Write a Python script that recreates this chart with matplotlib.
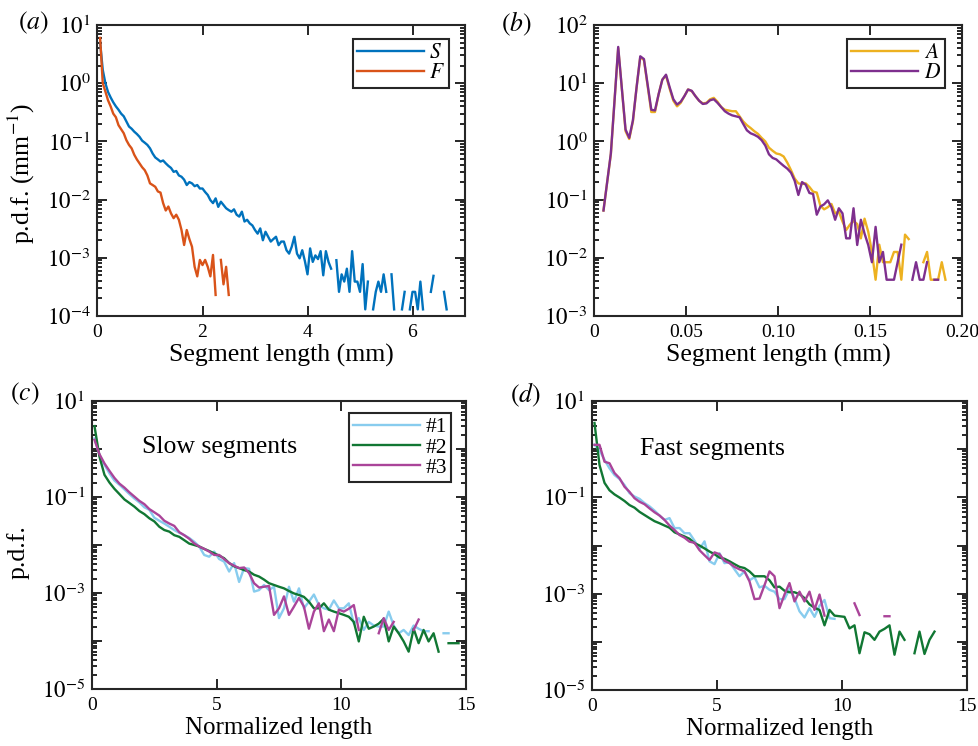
import numpy as np
import matplotlib
matplotlib.use("Agg")
from matplotlib import pyplot as plt
from matplotlib.ticker import LogLocator, FuncFormatter, NullFormatter

nan = np.nan

# (a) pdf of segment length, slow (S) and fast (F), 0.05 mm bins starting at 0.05
s_pdf = [5.0, 1.7, 1.0, 0.71, 0.57, 0.47, 0.40, 0.35, 0.30, 0.27,
         0.22, 0.18, 0.165, 0.147, 0.134, 0.12, 0.103, 0.095, 0.087, 0.076,
         0.062, 0.053, 0.049, 0.045, 0.047, 0.042, 0.038, 0.035, 0.030, 0.031,
         0.026, 0.0247, 0.022, 0.0178, 0.020, 0.019, 0.017, 0.0178, 0.0155, 0.0155,
         0.0135, 0.012, 0.0098, 0.0087, 0.0105, 0.0075, 0.0092, 0.0081, 0.0071, 0.0066,
         0.0062, 0.0068, 0.0055, 0.0051, 0.0062, 0.0042, 0.0045, 0.0039, 0.0036, 0.0030,
         0.0026, 0.0032, 0.0020, 0.0028, 0.0023, 0.0019, 0.0021, 0.0023, 0.00165, 0.0019,
         0.0019, 0.00135, 0.00118, 0.00155, 0.0023, 0.00118, 0.00098, 0.00135, 8.8e-4, 5.2e-4,
         1.45e-3, 8.5e-4, 1.1e-3, 9.5e-4, 1.3e-3, 5.0e-4, 1.3e-3, 8.5e-4, 6.5e-4, nan,
         9.1e-4, 2.6e-4, 5.2e-4, 3.9e-4, 6.5e-4, 2.6e-4, 1.3e-3, 3.9e-4, 3.9e-4, 2.6e-4,
         7.8e-4, 1.3e-4, 3.9e-4, nan, 1.3e-4, 2.6e-4, 3.9e-4, 2.6e-4, 5.2e-4, 2.6e-4,
         nan, 5.2e-4, 1.3e-4, nan, nan, 1.3e-4, 2.6e-4, nan, 1.3e-4, 2.6e-4,
         2.6e-4, 1.3e-4, 3.9e-4, 1.3e-4, nan, nan, 2.6e-4, 4.9e-4, nan, nan,
         nan, 2.6e-4, 1.3e-4]
f_pdf = [6.0, 1.0, 0.72, 0.51, 0.40, 0.30, 0.26, 0.19, 0.162, 0.138,
         0.105, 0.087, 0.076, 0.059, 0.049, 0.042, 0.036, 0.032, 0.026, 0.019,
         0.0178, 0.0166, 0.0138, 0.0132, 0.0087, 0.0065, 0.0076, 0.0058, 0.0048, 0.0055,
         0.0045, 0.0030, 0.00166, 0.0030, 0.0021, 0.00155, 0.0007, 0.00048, 0.00092, 0.00075,
         0.00092, 0.0007, 0.00048, 0.00112, 0.00023, nan, 0.00092, 0.00035, 0.0007, 0.00023]
seg_bin_a = 0.05

# (b) pdf of short segments, A and D, 0.002 mm bins starting at 0.005
d_pdf = [0.065, 0.2, 0.62, 5.0, 42, 8.0, 1.6, 1.15, 2.3, 8.5,
         29, 26, 9.5, 3.5, 3.4, 6.5, 11.5, 14, 8.5, 5.3,
         4.3, 4.8, 6.0, 7.8, 7.4, 6.0, 5.0, 4.4, 4.5, 5.1,
         5.3, 4.6, 3.9, 3.3, 3.0, 2.8, 2.7, 2.6, 2.0, 1.55,
         1.38, 1.3, 1.2, 1.05, 0.85, 0.6, 0.52, 0.49, 0.43, 0.38,
         0.34, 0.29, 0.21, 0.12, 0.20, 0.18, 0.13, 0.125, 0.055, 0.076,
         0.083, 0.097, 0.074, 0.045, 0.071, 0.058, 0.0216, 0.0216, 0.071, 0.0166,
         0.045, 0.026, 0.0166, 0.0084, 0.034, 0.0084, 0.0126, 0.0042, 0.0042, 0.0042,
         0.0084, 0.0168, nan, nan, 0.0042, 0.0084, 0.0042, 0.0042, 0.0084, nan,
         0.0042, 0.0042, nan, nan, nan, nan, nan]
a_pdf = [0.065, 0.2, 0.6, 5.0, 40, 8.0, 1.5, 1.1, 2.2, 8.5,
         28, 25, 9.0, 3.2, 3.2, 6.5, 11.5, 13.5, 8.0, 5.0,
         4.0, 4.6, 6.0, 7.8, 7.3, 6.0, 5.0, 4.5, 4.6, 5.3,
         5.6, 4.8, 3.9, 3.5, 3.4, 3.3, 3.3, 2.7, 2.2, 1.9,
         1.7, 1.5, 1.35, 1.15, 1.0, 0.78, 0.69, 0.62, 0.60, 0.55,
         0.43, 0.32, 0.23, 0.19, 0.185, 0.19, 0.165, 0.137, 0.132, 0.078,
         0.068, 0.074, 0.084, 0.058, 0.062, 0.042, 0.030, 0.037, 0.043, 0.038,
         0.0216, 0.047, 0.028, 0.0126, 0.0042, 0.0168, 0.0084, 0.0084, 0.0084, 0.0126,
         0.0126, 0.0042, 0.025, 0.021, nan, nan, nan, 0.0084, 0.0126, 0.0042,
         0.0042, 0.0042, 0.0084, 0.0042, nan, nan, nan]
seg_start_b = 0.005
seg_bin_b = 0.002

# (c) slow segments, normalized length, bins of 0.2 starting at 0.1
slow_1 = [1.66, 0.75, 0.47, 0.31, 0.22, 0.18, 0.144, 0.115, 0.093, 0.077,
          0.061, 0.054, 0.037, 0.032, 0.028, 0.024, 0.0205, 0.018, 0.016, 0.014,
          0.0117, 0.0093, 0.0062, 0.0057, 0.0073, 0.0051, 0.0045, 0.0028, 0.0042, 0.0017,
          0.0033, 0.0032, 0.00107, 0.00115, 0.00147, 0.00115, 0.00135, 0.0003, 0.00048, 0.00135,
          0.00066, 0.00125, 0.00048, 0.00066, 0.00093, 0.00056, 0.00048, 0.00045, 0.0007, 0.00048,
          0.00048, 0.00061, 0.00023, 0.0003, 0.00017, 0.00025, 0.00021, 0.0002, 0.0002, 0.00041,
          0.00021, 0.000145, 0.00017, 0.000133, 0.00021, 0.00018, 0.00016, 0.00016, nan, nan,
          0.000145, 0.000145, nan, nan]
slow_2 = [3.0, 0.69, 0.29, 0.20, 0.148, 0.115, 0.089, 0.075, 0.063, 0.051,
          0.044, 0.036, 0.031, 0.024, 0.0205, 0.019, 0.016, 0.0148, 0.0126, 0.0107,
          0.0100, 0.0093, 0.0083, 0.0075, 0.0067, 0.006, 0.0053, 0.0042, 0.0036, 0.0033,
          0.003, 0.0028, 0.0024, 0.0022, 0.0019, 0.0016, 0.00147, 0.00135, 0.00125, 0.0011,
          0.00098, 0.00091, 0.00083, 0.00066, 0.00048, 0.00048, 0.00061, 0.00045, 0.00041, 0.00038,
          0.00035, 0.00032, 0.00025, 9.8e-5, 0.00032, 0.00018, 0.0002, 0.00023, 0.00029, 9.8e-5,
          0.0002, 0.000145, 9.8e-5, 6e-5, 0.00018, 9e-5, 0.00017, 9.8e-5, 0.000145, 6e-5,
          nan, 9e-5, 9e-5, 9e-5]
slow_3 = [1.55, 0.78, 0.50, 0.35, 0.25, 0.19, 0.157, 0.125, 0.102, 0.083,
          0.071, 0.056, 0.048, 0.041, 0.032, 0.028, 0.025, 0.0185, 0.016, 0.0135,
          0.0108, 0.0093, 0.0083, 0.0073, 0.0062, 0.0062, 0.0051, 0.0042, 0.0037, 0.0033,
          0.0034, 0.0026, 0.0016, 0.0013, 0.00135, 0.0014, 0.00035, 0.00048, 0.00085, 0.00035,
          0.00052, 0.00079, 0.00052, 0.00018, 0.00041, 0.00061, 0.00016, 0.00028, 0.00016, 0.00045,
          0.00041, 0.00047, 0.00056, 0.00017, nan, nan, nan, 0.000145, 0.0003, 0.00017,
          0.00025, nan, nan, nan, 0.00017, 0.00028, nan, nan, nan, nan,
          nan, nan, nan, nan]

# (d) fast segments, same bins
fast_1 = [1.23, 0.95, 0.60, 0.40, 0.29, 0.24, 0.18, 0.122, 0.104, 0.093,
          0.076, 0.065, 0.053, 0.042, 0.034, 0.037, 0.023, 0.023, 0.018, 0.018,
          0.0126, 0.0084, 0.0122, 0.0047, 0.0041, 0.0069, 0.0043, 0.0045, 0.0032, 0.0023,
          0.0029, 0.0019, 0.0022, 0.00135, 0.00146, 0.0012, 0.0011, 0.00077, 0.00077, 0.00126,
          0.00081, 0.00043, 0.00032, 0.0005, 0.00033, 0.00056, 0.00074, 0.00031, 0.0003, nan,
          nan, nan, nan, nan, nan, nan, nan, nan, nan, nan,
          nan, nan, nan, nan, nan, nan, nan, nan, nan, nan,
          nan, nan, nan, nan]
fast_2 = [3.5, 0.47, 0.20, 0.14, 0.115, 0.099, 0.084, 0.069, 0.061, 0.050,
          0.043, 0.037, 0.032, 0.029, 0.026, 0.0234, 0.0188, 0.017, 0.0154, 0.0138,
          0.0112, 0.0100, 0.0087, 0.0075, 0.0066, 0.0056, 0.0053, 0.0047, 0.0041, 0.0036,
          0.0034, 0.0029, 0.0023, 0.0023, 0.0023, 0.0019, 0.00135, 0.0014, 0.00115, 0.00107,
          0.00107, 0.00098, 0.00081, 0.0006, 0.00051, 0.00046, 0.00022, 0.00046, 0.00035, 0.00034,
          0.00033, 0.00019, 0.00022, 5.8e-5, 0.000158, 0.000144, 0.00011, 0.000163, 0.000186, 0.00022,
          5.4e-5, 0.000163, 0.00011, nan, 5.8e-5, 0.000163, 5.6e-5, 0.00011, 0.000163, nan,
          nan, nan, nan, nan]
fast_3 = [1.23, 1.23, 0.55, 0.51, 0.32, 0.25, 0.166, 0.13, 0.096, 0.081,
          0.072, 0.059, 0.049, 0.042, 0.034, 0.026, 0.021, 0.0165, 0.0145, 0.012,
          0.0114, 0.008, 0.0063, 0.005, 0.0072, 0.0066, 0.0048, 0.0043, 0.0036, 0.0032,
          0.0029, 0.0018, 0.00077, 0.00079, 0.0015, 0.0029, 0.0023, 0.0005, 0.00096, 0.00166,
          0.00069, 0.0011, 0.00069, 0.0011, 0.00046, 0.00096, 0.00035, nan, nan, nan,
          nan, nan, 0.00063, 0.00036, nan, nan, nan, nan, 0.00034, 0.00034,
          nan, nan, nan, nan, nan, nan, nan, nan, nan, nan,
          nan, nan, nan, nan]
norm_start = 0.1
norm_bin = 0.2

run_labels = ["#1", "#2", "#3"]
run_colors = ["#88CCEE", "#117733", "#AA4499"]

plt.rcParams['font.family'] = 'serif'
plt.rcParams['font.serif'] = ['Liberation Serif', 'DejaVu Serif']
plt.rcParams['mathtext.fontset'] = 'stix'
plt.rcParams['font.size'] = 16
edge = '#262626'
big = 18.5


def exp_label(odd_only):
    def fmt(v, pos):
        e = int(round(np.log10(v)))
        if odd_only and e % 2 == 0:
            return ''
        return '$10^{%d}$' % e
    return FuncFormatter(fmt)


def style(ax, xlim, ylim, xticks, odd_only=False):
    ax.set_yscale('log')
    ax.set_xlim(*xlim)
    ax.set_ylim(*ylim)
    ax.set_xticks(xticks)
    ax.yaxis.set_major_locator(LogLocator(base=10, numticks=20))
    ax.yaxis.set_minor_locator(LogLocator(base=10, subs=np.arange(2, 10), numticks=20))
    ax.yaxis.set_minor_formatter(NullFormatter())
    ax.yaxis.set_major_formatter(exp_label(odd_only))
    ax.tick_params(which='both', direction='in', top=True, right=True,
                   width=1.4, color=edge)
    ax.tick_params(axis='x', labelsize=14, pad=6)
    ax.tick_params(axis='y', labelsize=16.5, pad=5)
    ax.tick_params(which='major', length=7)
    ax.tick_params(which='minor', length=3.5)
    for sp in ax.spines.values():
        sp.set_linewidth(1.5)
        sp.set_color(edge)


def legend(ax, anchor):
    leg = ax.legend(loc='upper right', bbox_to_anchor=anchor, borderaxespad=0,
                    fancybox=False, framealpha=1, edgecolor=edge, handlelength=3.1,
                    labelspacing=0.0, borderpad=0.2, handletextpad=0.25, fontsize=15.5)
    leg.get_frame().set_linewidth(1.5)
    return leg


fig = plt.figure(figsize=(9.79, 7.46), dpi=100)
fig.set_facecolor('w')
W, H = 979.0, 746.0


def axes_px(l, t, r, b):
    return fig.add_axes([l / W, 1 - b / H, (r - l) / W, (b - t) / H])


lw = 1.7

# (a)
ax = axes_px(97.5, 25, 465, 316)
xs = seg_bin_a * np.arange(1, len(s_pdf) + 1)
xf = seg_bin_a * np.arange(1, len(f_pdf) + 1)
ax.plot(xs, s_pdf, c="#0072BD", lw=lw, label="$S$")
ax.plot(xf, f_pdf, c="#D95319", lw=lw, label="$F$")
style(ax, (0, 7), (1e-4, 1e1), [0, 2, 4, 6])
ax.set_xlabel("Segment length (mm)", fontsize=big, labelpad=2)
ax.set_ylabel("p.d.f. (mm$^{-1}$)", fontsize=big)
ax.yaxis.set_label_coords(-0.165, 0.49)
legend(ax, (0.957, 0.952))

# (b)
ax = axes_px(594.3, 25, 962, 316)
xb = seg_start_b + seg_bin_b * np.arange(len(d_pdf))
ax.plot(xb, a_pdf, c="#EDB120", lw=lw, label="$A$")
ax.plot(xb, d_pdf, c="#7E2F8E", lw=lw, label="$D$")
style(ax, (0, 0.2), (1e-3, 1e2), [0, 0.05, 0.10, 0.15, 0.20])
ax.set_xticklabels(["0", "0.05", "0.10", "0.15", "0.20"])
ax.set_xlabel("Segment length (mm)", fontsize=big, labelpad=2)
legend(ax, (0.954, 0.952))

# (c)
ax = axes_px(92, 401, 466, 689)
xn = norm_start + norm_bin * np.arange(len(slow_1))
for series, lab, col in zip([slow_1, slow_2, slow_3], run_labels, run_colors):
    ax.plot(xn, series, c=col, lw=lw, label=lab)
style(ax, (0, 15), (1e-5, 1e1), [0, 5, 10, 15], odd_only=True)
ax.set_xlabel("Normalized length", fontsize=18, labelpad=2)
ax.set_ylabel("p.d.f.", fontsize=big)
ax.yaxis.set_label_coords(-0.166, 0.476)
ax.text(0.34, 0.84, "Slow segments", transform=ax.transAxes, ha='center', va='center', fontsize=big)
legend(ax, (0.96, 0.958))

# (d)
ax = axes_px(592, 401, 967, 690)
xn = norm_start + norm_bin * np.arange(len(fast_1))
for series, lab, col in zip([fast_1, fast_2, fast_3], run_labels, run_colors):
    ax.plot(xn, series, c=col, lw=lw, label=lab)
style(ax, (0, 15), (1e-5, 1e1), [0, 5, 10, 15], odd_only=True)
ax.set_xlabel("Normalized length", fontsize=18, labelpad=2)
ax.text(0.321, 0.834, "Fast segments", transform=ax.transAxes, ha='center', va='center', fontsize=big)

for lab, x, y in [("a", 33, 23), ("b", 516, 24), ("c", 25, 394), ("d", 525, 395)]:
    fig.text(x / W, 1 - y / H, "$(%s)$" % lab, ha='center', va='center', fontsize=big)

plt.savefig("out.png", dpi=100)
